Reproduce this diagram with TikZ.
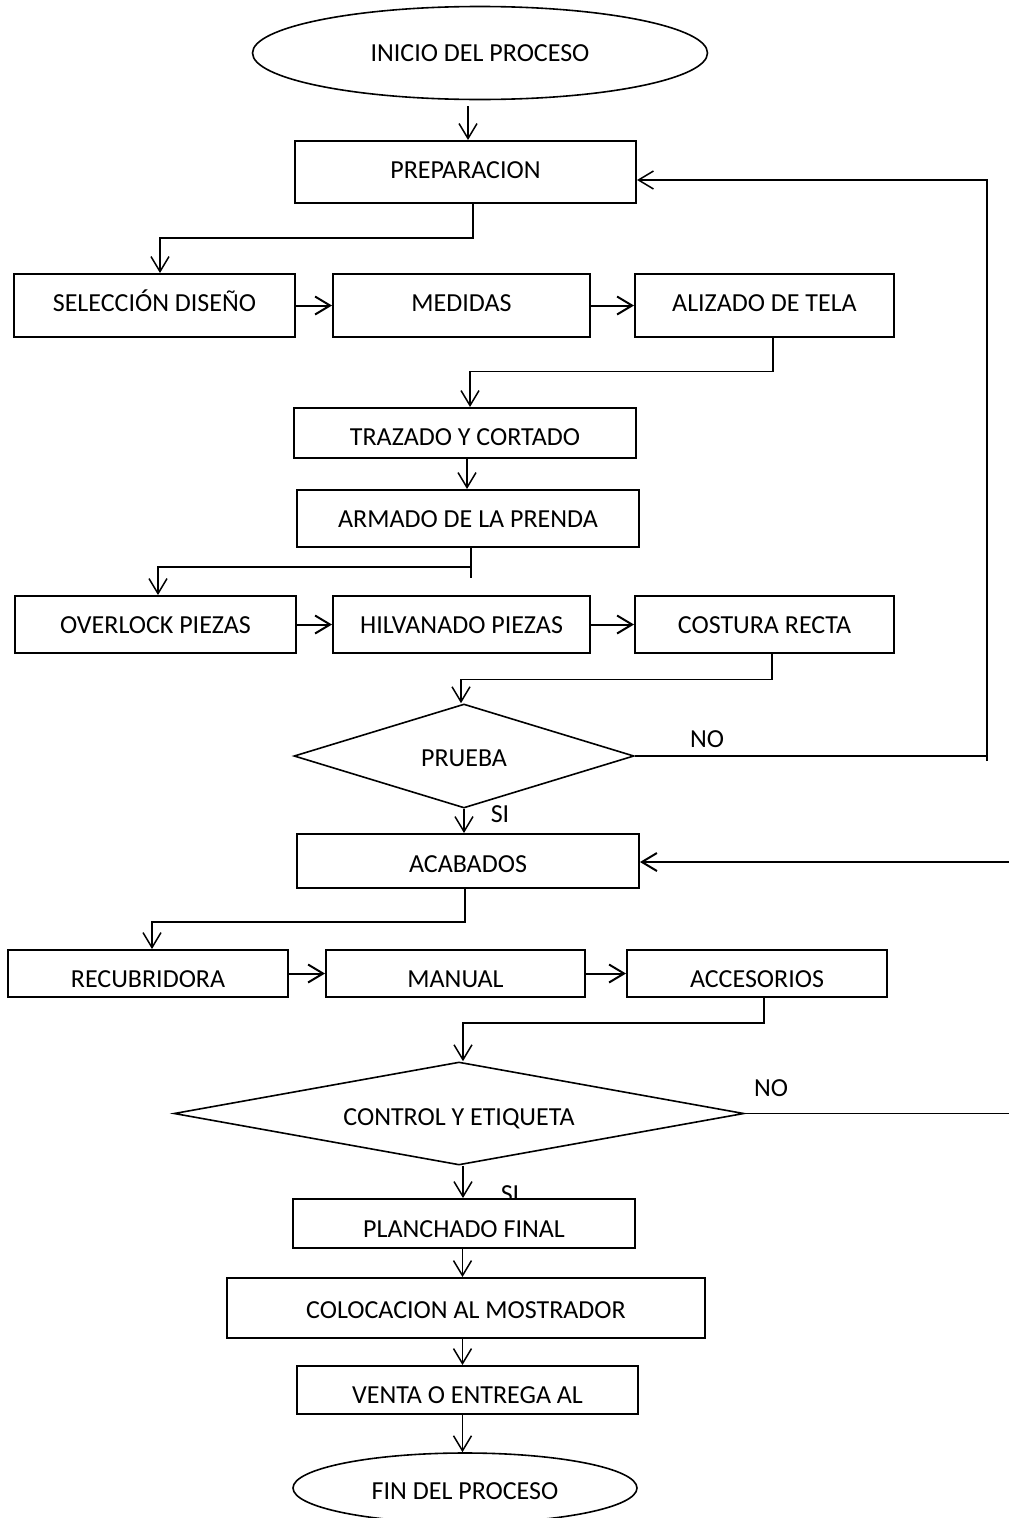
\documentclass[tikz,border=0pt]{standalone}
\usepackage{fontspec}
\setmainfont{Carlito}
\usetikzlibrary{shapes.geometric,arrows.meta}
\begin{document}
\begin{tikzpicture}[x=1pt,y=-1pt,
  every node/.style={font=\fontsize{26}{30}\selectfont, inner sep=0pt},
  box/.style={draw, line width=2pt, fill=white, rectangle, text height=#1, text depth=0pt},
  box/.default=17pt,
  term/.style={draw, line width=1.6pt, ellipse, fill=white, text height=#1, text depth=0pt},
  term/.default=17pt,
  dec/.style={draw, line width=1.6pt, diamond, fill=white, text height=#1, text depth=0pt},
  dec/.default=17pt,
  lbl/.style={text height=17pt, text depth=0pt},
  con/.style={line width=1.5pt},
  arr/.style={line width=1.5pt, -{Straight Barb[length=15pt,width=18pt]}},
  harr/.style={line width=2pt, -{Straight Barb[length=15pt,width=18pt]}}
]
\fill[white] (0,0) rectangle (1009,1518);
\useasboundingbox (0,0) rectangle (1009,1518);

% labels
\node[lbl] (no1) at (707,739) {NO};
\node[lbl] (si1) at (500,814) {SI};
\node[lbl] (no2) at (771,1088) {NO};
\node[lbl] (si2) at (510,1193.5) {SI};

% nodes
\node[term, minimum width=455pt, minimum height=93pt] (start) at (480,53) {INICIO DEL PROCESO};
\node[box=13pt, minimum width=341pt, minimum height=62pt] (prep) at (465.5,172) {PREPARACION};
\node[box=11pt, minimum width=281pt, minimum height=63pt] (sel) at (154.5,305.5) {SELECCIÓN DISEÑO};
\node[box=11pt, minimum width=257pt, minimum height=63pt] (med) at (461.5,305.5) {MEDIDAS};
\node[box=11pt, minimum width=259pt, minimum height=63pt] (aliz) at (764.5,305.5) {ALIZADO DE TELA};
\node[box=25pt, minimum width=342pt, minimum height=50pt] (traz) at (465,433) {TRAZADO Y CORTADO};
\node[box, minimum width=342pt, minimum height=57pt] (arm) at (468,518.5) {ARMADO DE LA PRENDA};
\node[box, minimum width=281pt, minimum height=57pt] (over) at (155.5,624.5) {OVERLOCK PIEZAS};
\node[box, minimum width=257pt, minimum height=57pt] (hilv) at (461.5,624.5) {HILVANADO PIEZAS};
\node[box, minimum width=259pt, minimum height=57pt] (cost) at (764.5,624.5) {COSTURA RECTA};
\node[dec=21pt, shape aspect=3.3, minimum width=340pt, minimum height=104pt] (prueba) at (464,756) {PRUEBA};
\node[box=22pt, minimum width=342pt, minimum height=54pt] (acab) at (468,861) {ACABADOS};
\node[box=27pt, minimum width=280pt, minimum height=47pt] (recu) at (148,973.5) {RECUBRIDORA};
\node[box=27pt, minimum width=259pt, minimum height=47pt] (man) at (455.5,973.5) {MANUAL};
\node[box=27pt, minimum width=260pt, minimum height=47pt] (acc) at (757,973.5) {ACCESORIOS};
\node[dec=24pt, shape aspect=5.5, minimum width=570pt, minimum height=103pt] (ctrl) at (459,1113.5) {CONTROL Y ETIQUETA};
\node[box=27pt, minimum width=342pt, minimum height=49pt] (planch) at (464,1223.5) {PLANCHADO FINAL};
\node[box=20pt, minimum width=478pt, minimum height=60pt] (coloc) at (466,1308) {COLOCACION AL MOSTRADOR};
\node[box=26pt, minimum width=341pt, minimum height=48pt] (venta) at (467.5,1390) {VENTA O ENTREGA AL};
\node[term=23pt, minimum width=344pt, minimum height=70pt] (fin) at (465,1488) {FIN DEL PROCESO};

% connectors
\coordinate (s0) at ([xshift=-12pt,yshift=-6pt]start.south);
\draw[arr] (s0) -- (s0 |- prep.north);
\draw[arr] ([xshift=7.5pt]prep.south) -- ++(0,34) -| ([xshift=5.5pt]sel.north);
\draw[harr] (sel.east) -- (med.west);
\draw[harr] (med.east) -- (aliz.west);
\draw[arr] ([xshift=8.5pt]aliz.south) -- ++(0,33.5) -| ([xshift=5pt]traz.north);
\coordinate (s1) at ([xshift=2pt]traz.south);
\draw[arr] (s1) -- (s1 |- arm.north);
\draw[con] ([xshift=3pt,yshift=2pt]arm.south) -- ++(0,32);
\draw[arr] ([xshift=3pt,yshift=-19pt]arm.south) -| ([xshift=2.5pt]over.north);
\draw[harr] (over.east) -- (hilv.west);
\draw[harr] (hilv.east) -- (cost.west);
\draw[arr] ([xshift=7.5pt]cost.south) -- ++(0,25.5) -| ([xshift=-3pt]prueba.north);
\coordinate (r1) at (987,761);
\draw[con] (prueba.east) -- (prueba.east -| r1);
\draw[arr] (r1) |- ([yshift=-8pt]prep.east);
\draw[arr] (prueba.south) -- (prueba.south |- acab.north);
\coordinate (r2) at (1009,862);
\draw[harr] (r2) -- (r2 -| acab.east);
\draw[arr] ([xshift=-3pt]acab.south) -- ++(0,33) -| ([xshift=4pt]recu.north);
\draw[harr] (recu.east) -- (man.west);
\draw[harr] (man.east) -- (acc.west);
\draw[arr] ([xshift=7pt]acc.south) -- ++(0,25) -| ([xshift=4pt]ctrl.north);
\coordinate (r3) at (1009,1113.5);
\draw[con] (ctrl.east) -- (r3);
\coordinate (c1) at ([xshift=4pt]ctrl.south);
\draw[arr] (c1) -- (c1 |- planch.north);
\coordinate (c2) at ([xshift=-1.5pt]planch.south);
\draw[arr] (c2) -- (c2 |- coloc.north);
\coordinate (c3) at ([xshift=-3.5pt]coloc.south);
\draw[arr] (c3) -- (c3 |- venta.north);
\coordinate (c4) at ([xshift=-5pt]venta.south);
\draw[arr] (c4) -- (c4 |- fin.north);
\end{tikzpicture}
\end{document}
